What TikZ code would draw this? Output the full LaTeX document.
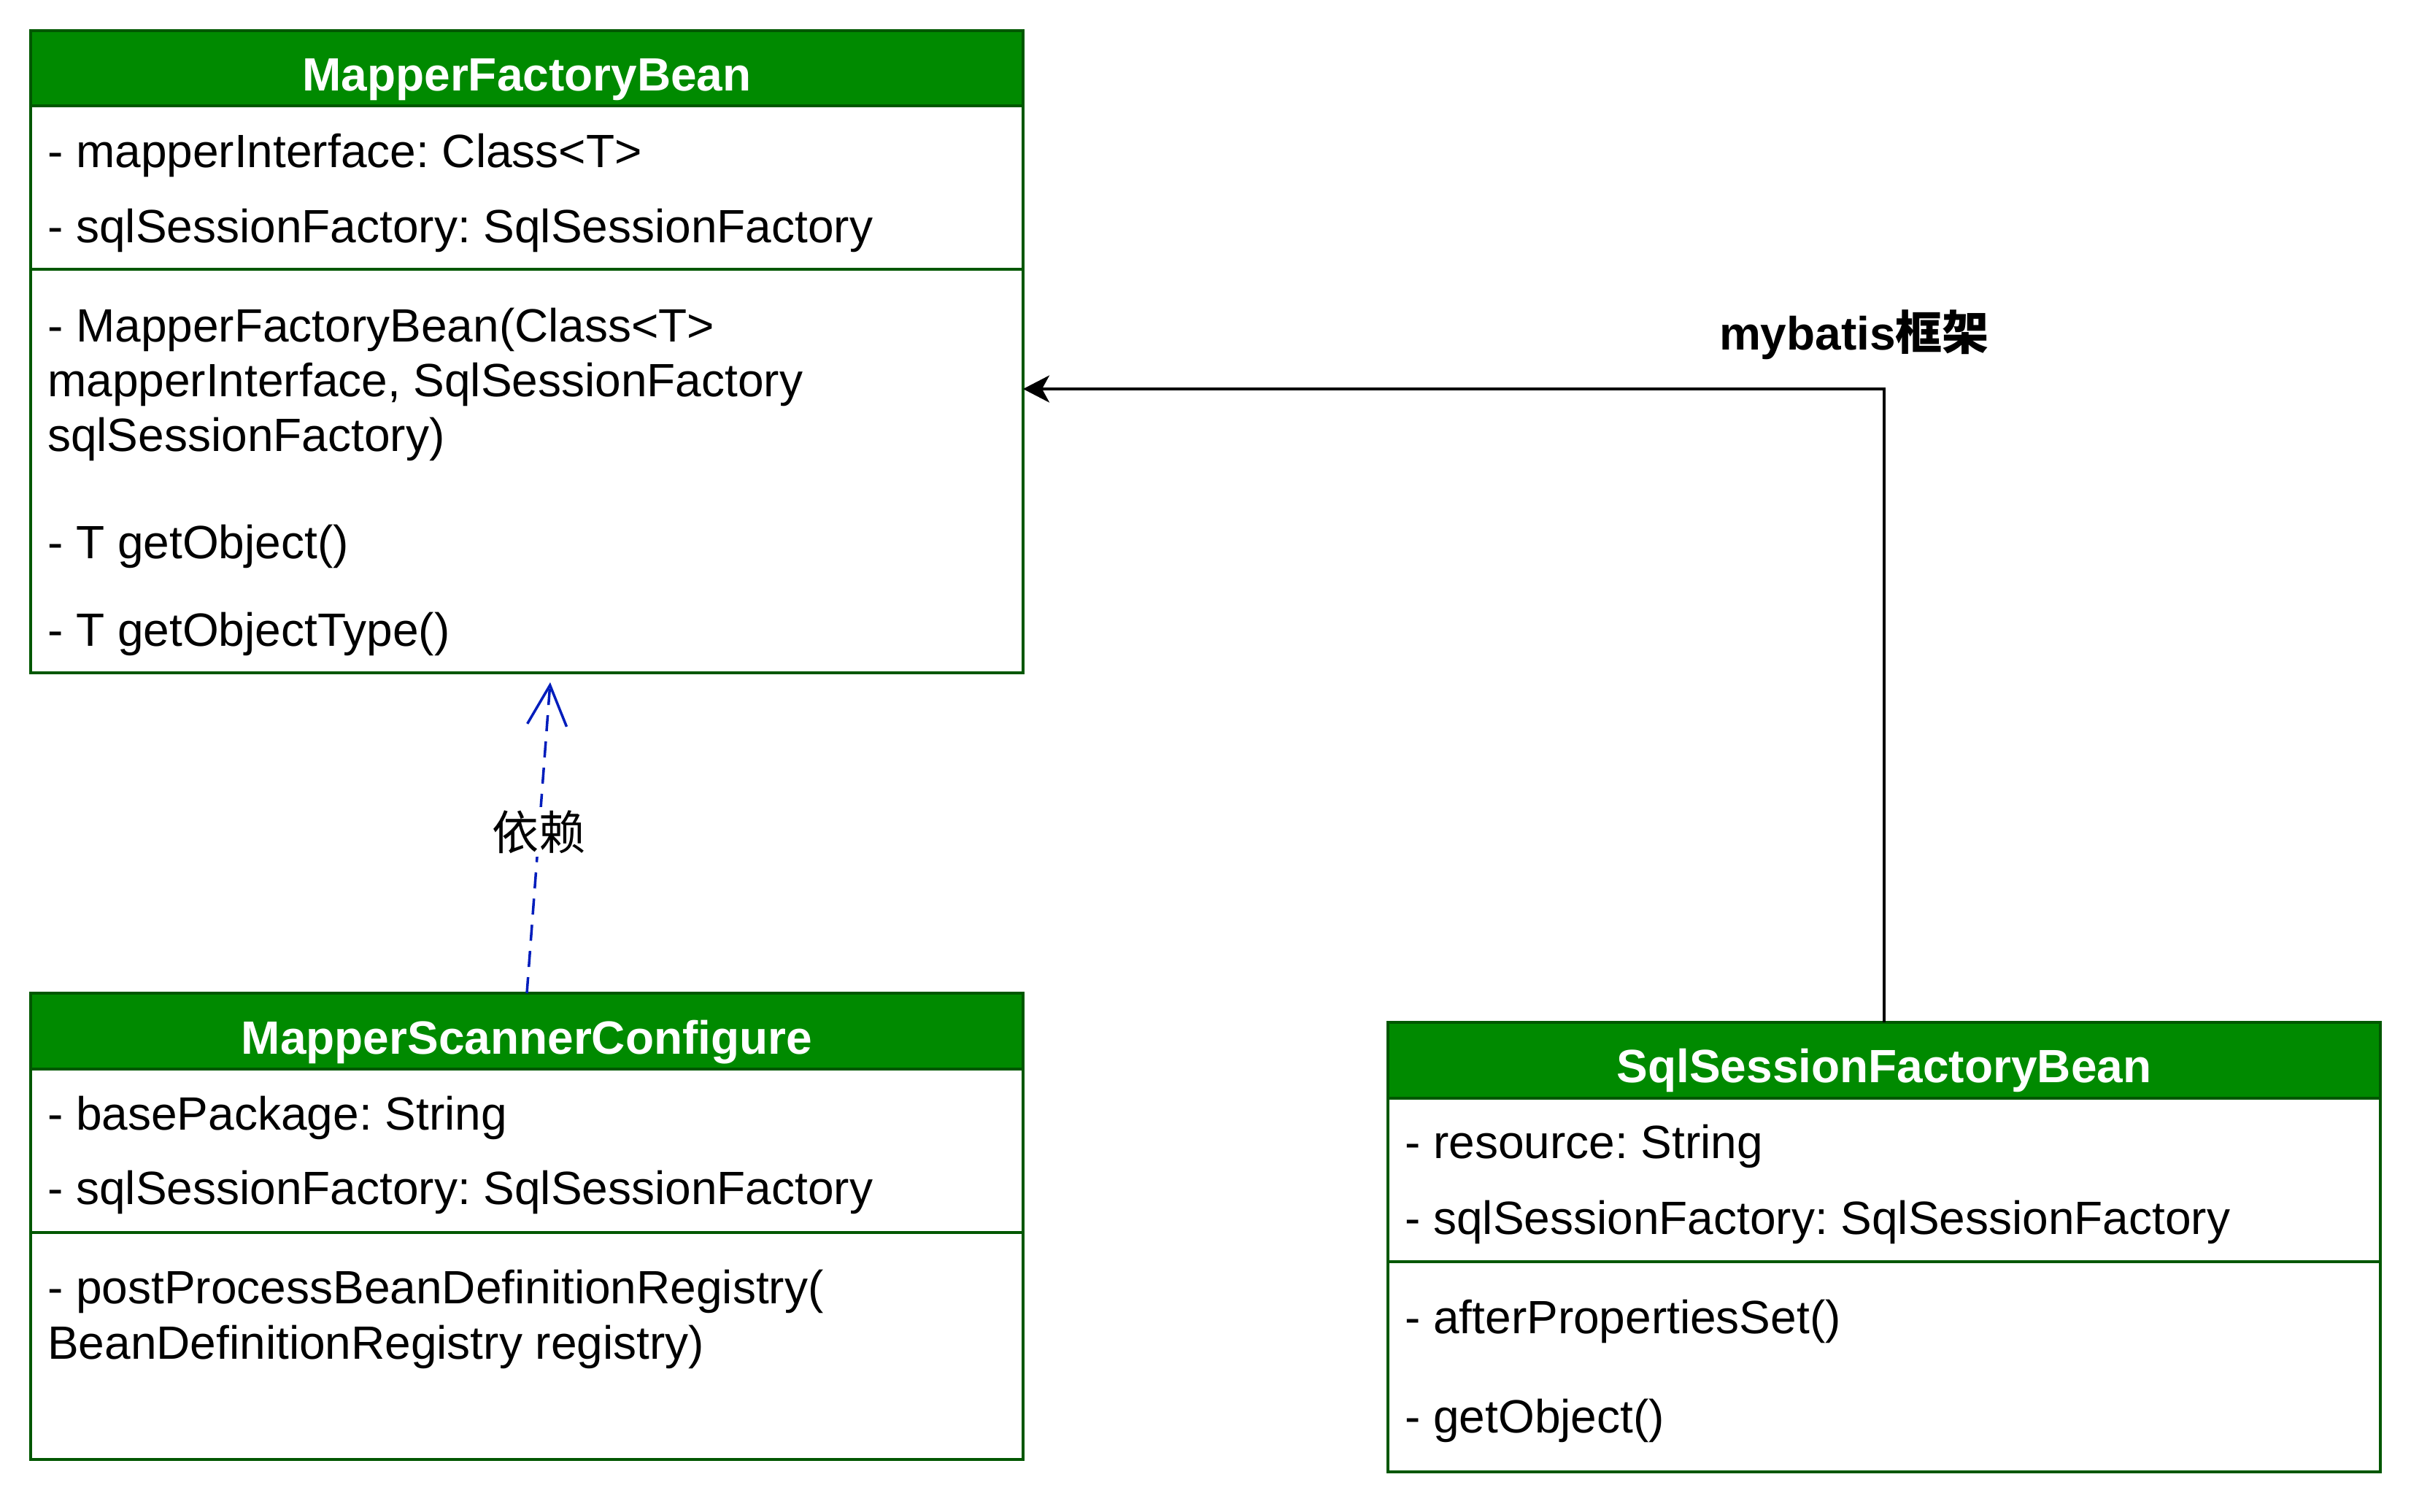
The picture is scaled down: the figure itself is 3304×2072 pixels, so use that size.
\documentclass[tikz,border=0pt]{standalone}
\usepackage{fontspec}
\setmainfont{Liberation Sans}
\newfontfamily\cjk{Noto Sans CJK SC}
\usetikzlibrary{arrows.meta}
\frenchspacing
\definecolor{hdrgreen}{HTML}{008A00}
\definecolor{bordergreen}{HTML}{005700}
\definecolor{depblue}{HTML}{001DBC}
\tikzset{
  classbox/.style={draw=bordergreen, line width=4pt, fill=white, inner sep=0pt, outer sep=0pt},
  hdrbox/.style={draw=bordergreen, line width=4pt, fill=hdrgreen, inner sep=0pt, outer sep=0pt},
  divider/.style={draw=bordergreen, line width=4pt},
  hdrtext/.style={text=white, font=\fontsize{64}{77}\selectfont\bfseries\frenchspacing, anchor=base, inner sep=0pt},
  member/.style={text=black, font=\fontsize{64}{77}\selectfont\frenchspacing, anchor=base west, inner sep=0pt},
  assoc/.style={draw=black, line width=4pt, -{Stealth[length=36pt, width=37pt, inset=10pt]}},
  depend/.style={draw=depblue, line width=3.5pt, dash pattern=on 22pt off 14pt, -{Straight Barb[length=55pt, width=54pt, line width=3.5pt]}},
}
\begin{document}
\begin{tikzpicture}[x=1pt, y=-1pt]
\useasboundingbox (0,0) rectangle (3304,2072);
\fill[white] (0,0) rectangle (3304,2072);

% ---- MapperFactoryBean ----
\node[classbox, minimum width=1360pt, minimum height=880pt] (mfb) at (722,482) {};
\path[hdrbox] (42,42) rectangle (1402,145);
\draw[divider] (42,369) -- (1402,369);
\node[hdrtext] (mfbh) at (722,124) {MapperFactoryBean};
\node[member] (mfb1) at (65,229) {- mapperInterface: Class<T>};
\node[member] (mfb2) at (65,332) {- sqlSessionFactory: SqlSessionFactory};
\node[member] (mfb3) at (65,468) {- MapperFactoryBean(Class<T>};
\node[member] (mfb4) at (65,543) {mapperInterface, SqlSessionFactory};
\node[member] (mfb5) at (65,618) {sqlSessionFactory)};
\node[member] (mfb6) at (65,765) {- T getObject()};
\node[member] (mfb7) at (65,885) {- T getObjectType()};

% ---- MapperScannerConfigure ----
\node[classbox, minimum width=1360pt, minimum height=639pt] (msc) at (722,1680.5) {};
\path[hdrbox] (42,1361) rectangle (1402,1465);
\draw[divider] (42,1689) -- (1402,1689);
\node[hdrtext] (msch) at (722,1444) {MapperScannerConfigure};
\node[member] (msc1) at (65,1548) {- basePackage: String};
\node[member] (msc2) at (65,1650) {- sqlSessionFactory: SqlSessionFactory};
\node[member] (msc3) at (65,1786) {- postProcessBeanDefinitionRegistry(};
\node[member] (msc4) at (65,1862) {BeanDefinitionRegistry registry)};

% ---- SqlSessionFactoryBean ----
\node[classbox, minimum width=1360pt, minimum height=616pt] (sfb) at (2582,1709) {};
\path[hdrbox] (1902,1401) rectangle (3262,1505);
\draw[divider] (1902,1729) -- (3262,1729);
\node[hdrtext] (sfbh) at (2582,1483) {SqlSessionFactoryBean};
\node[member] (sfb1) at (1925,1587) {- resource: String};
\node[member] (sfb2) at (1925,1691) {- sqlSessionFactory: SqlSessionFactory};
\node[member] (sfb3) at (1925,1827) {- afterPropertiesSet()};
\node[member] (sfb4) at (1925,1963) {- getObject()};

% ---- connectors ----
\coordinate (bend) at (2582,533);
\draw[assoc] (sfb.north) -- (bend) -- (bend -| mfb.east);
\node[font=\fontsize{64}{77}\selectfont\bfseries, anchor=base, inner sep=0pt] (lblmyb) at (2541,479) {mybatis{\cjk 框架}};

\coordinate (deptip) at ([xshift=32pt, yshift=-13pt]mfb.south);
\draw[depend] (msc.north) -- (deptip);
\node[fill=white, font=\fontsize{64}{77}\selectfont\cjk, inner sep=4pt] (lbldep) at (738,1140) {依赖};
\end{tikzpicture}
\end{document}
